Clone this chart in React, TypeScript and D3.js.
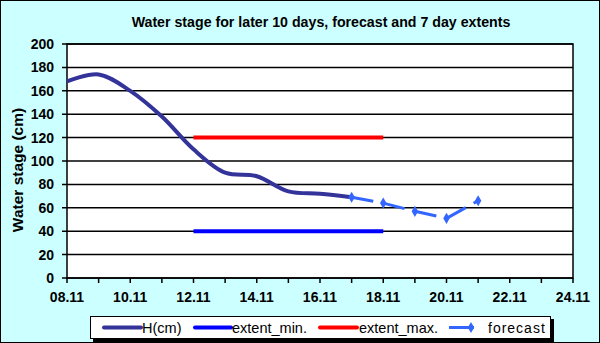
import React from "react";
import * as d3 from "d3";

// days on the x axis (day.month)
const days = [
  "08.11", "09.11", "10.11", "11.11", "12.11", "13.11", "14.11", "15.11", "16.11",
  "17.11", "18.11", "19.11", "20.11", "21.11", "22.11", "23.11", "24.11",
];
const xLabels = ["08.11", "10.11", "12.11", "14.11", "16.11", "18.11", "20.11", "22.11", "24.11"];
const yTicks = [0, 20, 40, 60, 80, 100, 120, 140, 160, 180, 200];

// observed water stage H(cm)
const hDays = ["08.11", "09.11", "10.11", "11.11", "12.11", "13.11", "14.11", "15.11", "16.11", "17.11"];
const hValues = [168, 174, 160, 138, 110, 90, 87, 74, 72, 69];

// forecast
const fDays = ["17.11", "18.11", "19.11", "20.11", "21.11"];
const fValues = [69, 64, 57, 51, 66];

// 7 day extents
const extDays = ["12.11", "18.11"];
const extMin = [40, 40];
const extMax = [120, 120];

const W = 600;
const H = 343;
const font = "'Liberation Sans', Arial, sans-serif";

export default function App() {
  const x = d3.scalePoint<string>().domain(days).range([67, 573]);
  const y = d3.scaleLinear().domain([0, 200]).range([278, 44]);

  const hLine = d3
    .line<number>()
    .x((_, i) => x(hDays[i])!)
    .y((d) => y(d))
    .curve(d3.curveCatmullRom.alpha(0.5));

  const extLine = (vals: number[]) =>
    d3
      .line<number>()
      .x((_, i) => x(extDays[i])!)
      .y((d) => y(d))(vals) as string;

  const diamond = d3.symbol().type(d3.symbolDiamond).size(36)() as string;

  const legendItems = [
    { label: "H(cm)", color: "#333399", x0: 104, x1: 141, tx: 142 },
    { label: "extent_min.", color: "#0000ff", x0: 195, x1: 231, tx: 232 },
    { label: "extent_max.", color: "#ff0000", x0: 320, x1: 357, tx: 359 },
  ];

  return (
    <svg
      width={W}
      height={H}
      style={{ position: "absolute", left: 0, top: 0 }}
      fontFamily={font}
    >
      <rect x={0.5} y={0.5} width={W - 1} height={H - 1} fill="#ccffff" stroke="#000" />
      <text x={321} y={27} textAnchor="middle" fontSize={14.2} fontWeight="bold">
        Water stage for later 10 days, forecast and 7 day  extents
      </text>

      {/* plot area */}
      <rect x={67} y={44} width={506} height={234} fill="#fff" stroke="#000" strokeWidth={1.5} />
      {yTicks.map((t) => (
        <g key={t}>
          <line x1={62} x2={573} y1={y(t)} y2={y(t)} stroke="#000" strokeWidth={1.5} />
          <text
            x={54}
            y={y(t) + 5}
            textAnchor="end"
            fontSize={14}
            fontWeight="bold"
          >
            {t}
          </text>
        </g>
      ))}
      {days.map((d) => (
        <line key={d} x1={x(d)} x2={x(d)} y1={278} y2={283} stroke="#000" strokeWidth={1.5} />
      ))}
      {xLabels.map((d) => (
        <text key={d} x={x(d)} y={302} textAnchor="middle" fontSize={14} fontWeight="bold">
          {d}
        </text>
      ))}
      <text
        transform={`translate(23,170) rotate(-90)`}
        textAnchor="middle"
        fontSize={15.5}
        fontWeight="bold"
      >
        Water stage (cm)
      </text>

      {/* extents */}
      <path d={extLine(extMax)} stroke="#ff0000" strokeWidth={4} fill="none" />
      <path d={extLine(extMin)} stroke="#0000ff" strokeWidth={4} fill="none" />

      {/* observed */}
      <path d={hLine(hValues) as string} stroke="#333399" strokeWidth={4} fill="none" />

      {/* forecast */}
      {fValues.slice(1).map((v, i) => (
        <line
          key={i}
          x1={x(fDays[i])}
          y1={y(fValues[i])}
          x2={x(fDays[i + 1])}
          y2={y(v)}
          stroke="#3366ff"
          strokeWidth={3}
          strokeDasharray="22 9"
        />
      ))}
      {fValues.map((v, i) => (
        <path key={i} d={diamond} transform={`translate(${x(fDays[i])},${y(v)})`} fill="#3366ff" />
      ))}

      {/* legend */}
      <rect x={93} y={319} width={461} height={23} fill="#000" />
      <rect x={90.5} y={316.5} width={460} height={22} fill="#fff" stroke="#000" />
      {legendItems.map((it) => (
        <g key={it.label}>
          <line x1={it.x0} x2={it.x1} y1={327.5} y2={327.5} stroke={it.color} strokeWidth={4} strokeLinecap="round" />
          <text x={it.tx} y={332.5} fontSize={14.5}>
            {it.label}
          </text>
        </g>
      ))}
      <line x1={449} x2={474} y1={327.5} y2={327.5} stroke="#3366ff" strokeWidth={3} />
      <path d={diamond} transform="translate(471,327.5)" fill="#3366ff" />
      <text x={488} y={332.5} fontSize={14} letterSpacing={1}>
        forecast
      </text>
    </svg>
  );
}
